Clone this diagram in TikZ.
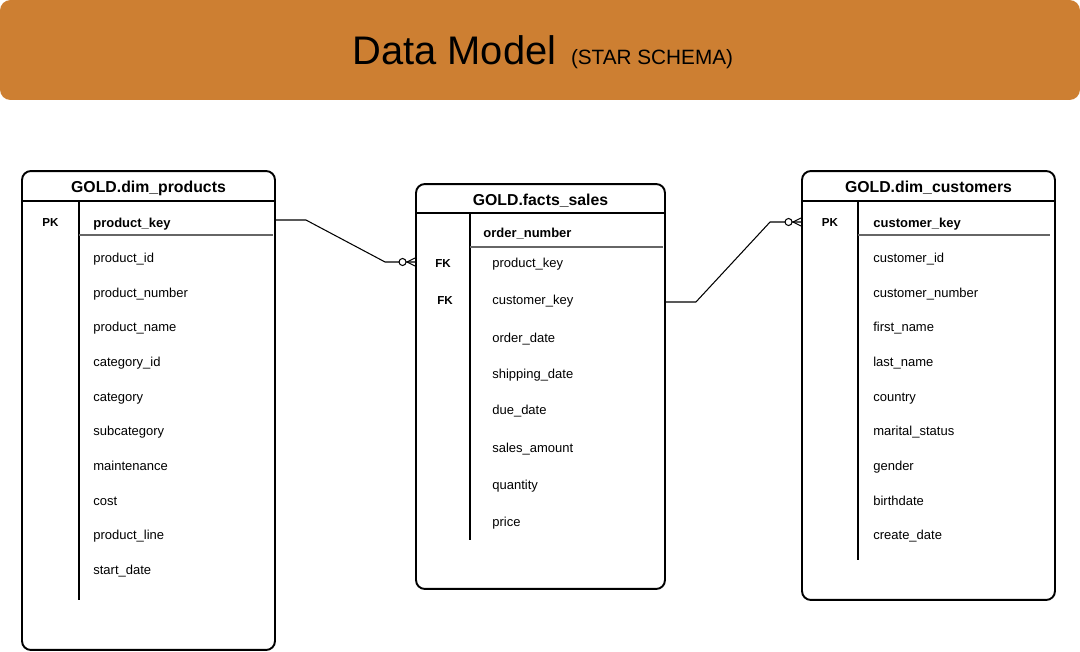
\documentclass[tikz,border=0pt]{standalone}
\usepackage{fontspec}
\setmainfont{Liberation Sans}
\usetikzlibrary{positioning,calc}
\definecolor{bronze}{RGB}{205,127,50}

\tikzset{
  tablebox/.style={draw, line width=1.1pt, rounded corners=5pt, inner sep=0pt},
  tabtitle/.style={font=\fontsize{9}{10}\selectfont\bfseries, anchor=base, inner sep=0pt},
  keyfield/.style={font=\fontsize{7.4}{8}\selectfont\bfseries, anchor=base west, inner sep=0pt},
  field/.style={font=\fontsize{7.4}{8}\selectfont, anchor=base west, inner sep=0pt},
  keytag/.style={font=\fontsize{6.6}{7}\selectfont\bfseries, anchor=base, inner sep=0pt},
  headline/.style={line width=0.9pt},
  divider/.style={line width=1pt},
  keyline/.style={line width=0.6pt, black!60},
  rel/.style={line width=0.6pt},
  zeromany/.pic={
    \draw[rel, fill=white] (-12.5,0) circle[radius=2pt];
    \draw[rel] (-8,0) -- (0,-4) (-8,0) -- (0,4);
  }
}

\begin{document}
\begin{tikzpicture}[x=0.02cm, y=-0.02cm]
  \useasboundingbox (0,0) rectangle (1080,652);
  \fill[bronze, rounded corners=6pt] (0,0) rectangle (1080,100);
  \node[anchor=base west, inner sep=0pt, font=\fontsize{22.7}{26}\selectfont] (title) at (352,65) {Data Model};
  \node[right=0.28cm of title.base east, anchor=base west, inner sep=0pt, font=\fontsize{11.8}{14}\selectfont] (subtitle) {(STAR SCHEMA)};

  \node[tablebox, minimum width=5.06cm, minimum height=9.58cm] (products) at (148.5,410.5) {};
  \node[tablebox, minimum width=4.98cm, minimum height=8.1cm] (facts) at (540.5,386.5) {};
  \node[tablebox, minimum width=5.06cm, minimum height=8.58cm] (customers) at (928.5,385.5) {};

  \draw[headline] (products.west |- 0,201) -- (products.east |- 0,201);
  \draw[headline] (facts.west |- 0,213) -- (facts.east |- 0,213);
  \draw[headline] (customers.west |- 0,201) -- (customers.east |- 0,201);
  \node[tabtitle] (prodtitle) at (148.5,193) {GOLD.dim\_products};
  \node[tabtitle] (factstitle) at (540.5,206) {GOLD.facts\_sales};
  \node[tabtitle] (custtitle) at (928.5,193) {GOLD.dim\_customers};

  \draw[divider] (79,201) -- (79,600);
  \draw[divider] (470,213) -- (470,540);
  \draw[divider] (858,201) -- (858,560);

  \node[keytag] (prodpk) at (50.5,227) {PK};
  \node[keyfield] (prodkey) at (93,228) {product\_key};
  \draw[keyline] (79,235) -- (273,235);
  \node[field] (prodid) at (93,263) {product\_id};
  \node[field] (prodnumber) at (93,297) {product\_number};
  \node[field] (prodname) at (93,332) {product\_name};
  \node[field] (prodcatid) at (93,366) {category\_id};
  \node[field] (prodcat) at (93,401) {category};
  \node[field] (prodsubcat) at (93,436) {subcategory};
  \node[field] (prodmaint) at (93,470) {maintenance};
  \node[field] (prodcost) at (93,505) {cost};
  \node[field] (prodline) at (93,539) {product\_line};
  \node[field] (prodstart) at (93,574) {start\_date};

  \node[keyfield] (factsorder) at (483,237) {order\_number};
  \draw[keyline] (470,247) -- (663,247);
  \node[keytag] (factsfkprod) at (443,268) {FK};
  \node[keytag] (factsfkcust) at (445,305) {FK};
  \node[field] (factsprod) at (492,268) {product\_key};
  \node[field] (factscust) at (492,305) {customer\_key};
  \node[field] (factsodate) at (492,342) {order\_date};
  \node[field] (factssdate) at (492,378) {shipping\_date};
  \node[field] (factsddate) at (492,415) {due\_date};
  \node[field] (factsamount) at (492,452) {sales\_amount};
  \node[field] (factsqty) at (492,489) {quantity};
  \node[field] (factsprice) at (492,526) {price};

  \node[keytag] (custpk) at (830,227) {PK};
  \node[keyfield] (custkey) at (873,228) {customer\_key};
  \draw[keyline] (858,235) -- (1050,235);
  \node[field] (custid) at (873,263) {customer\_id};
  \node[field] (custnumber) at (873,297) {customer\_number};
  \node[field] (custfirst) at (873,332) {first\_name};
  \node[field] (custlast) at (873,366) {last\_name};
  \node[field] (custcountry) at (873,401) {country};
  \node[field] (custmarital) at (873,436) {marital\_status};
  \node[field] (custgender) at (873,470) {gender};
  \node[field] (custbirth) at (873,505) {birthdate};
  \node[field] (custcreate) at (873,539) {create\_date};

  \coordinate (prodout) at (products.east |- 0,220);
  \coordinate (factsin) at (facts.west |- 0,262);
  \coordinate (factsout) at (facts.east |- 0,302);
  \coordinate (custin) at (customers.west |- 0,222);
  \draw[rel] (prodout) -- ++(30,0) -- ($(factsin)+(-30,0)$) -- (factsin);
  \draw[rel] (factsout) -- ++(30,0) -- ($(custin)+(-31,0)$) -- (custin);
  \pic at (factsin) {zeromany};
  \pic at (custin) {zeromany};
\end{tikzpicture}
\end{document}
